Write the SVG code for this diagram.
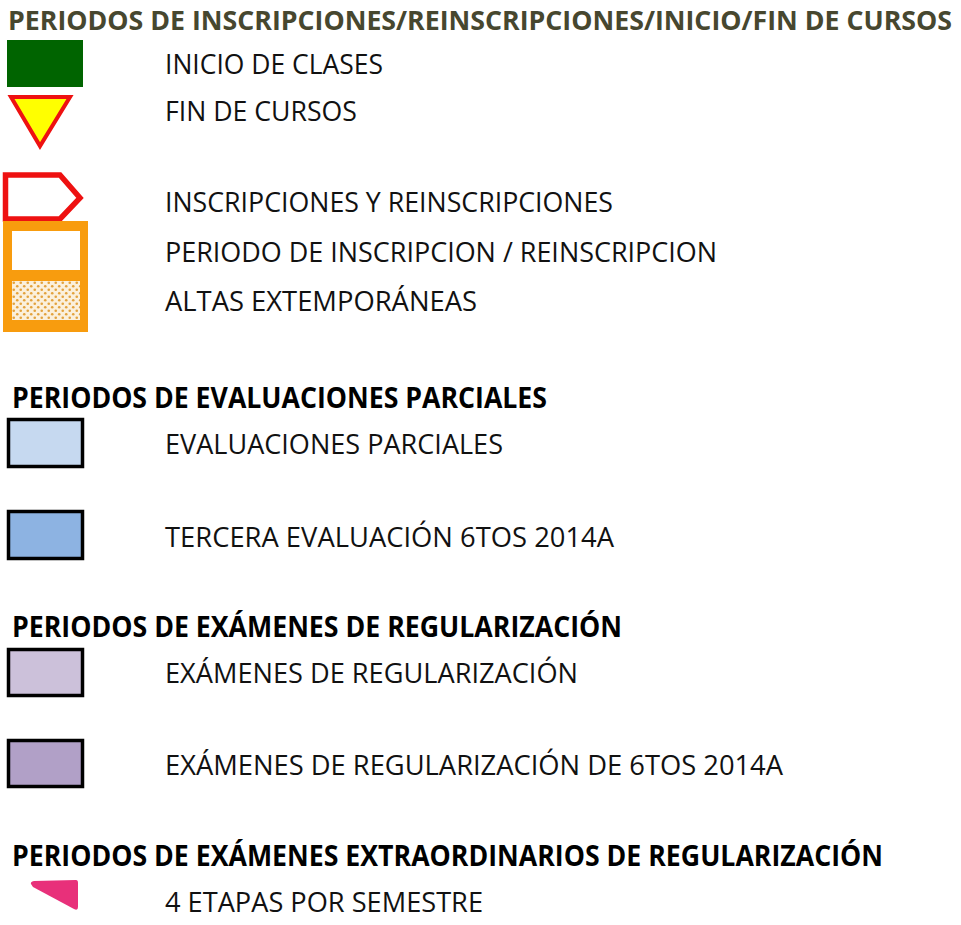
<svg xmlns="http://www.w3.org/2000/svg" width="961" height="925" viewBox="0 0 961 925">
<style>
.t{font-family:"Open Sans","Liberation Sans",sans-serif;font-size:27px;fill:#111}
.h{font-family:"Open Sans","Liberation Sans",sans-serif;font-size:28px;font-weight:bold;fill:#000}
.box{stroke:#000;stroke-width:3.5}
</style>
<defs>
<pattern id="dots" width="7" height="7" patternUnits="userSpaceOnUse" x="12" y="281">
<rect width="7" height="7" fill="#fbf0dc"/>
<circle cx="1.75" cy="1.75" r="1.3" fill="#e3a23c"/>
<circle cx="5.25" cy="5.25" r="1.3" fill="#e3a23c"/>
</pattern>
</defs>
<rect width="961" height="925" fill="#fff"/>
<g id="titles">
<text class="h" x="8" y="30" style="font-size:26.5px;fill:#47472f" textLength="944" lengthAdjust="spacingAndGlyphs">PERIODOS DE INSCRIPCIONES/REINSCRIPCIONES/INICIO/FIN DE CURSOS</text>
<text class="h" x="12" y="408" textLength="535" lengthAdjust="spacingAndGlyphs">PERIODOS DE EVALUACIONES PARCIALES</text>
<text class="h" x="12" y="637" textLength="610" lengthAdjust="spacingAndGlyphs">PERIODOS DE EXÁMENES DE REGULARIZACIÓN</text>
<text class="h" x="12" y="866" textLength="871" lengthAdjust="spacingAndGlyphs">PERIODOS DE EXÁMENES EXTRAORDINARIOS DE REGULARIZACIÓN</text>
</g>
<g id="inicio-clases">
<rect x="7" y="40" width="76" height="47" fill="#006400"/>
<text class="t" x="165" y="74" textLength="218" lengthAdjust="spacingAndGlyphs">INICIO DE CLASES</text>
</g>
<g id="fin-cursos">
<polygon points="11,97 70,97 40,146" fill="#ffff00" stroke="#ee1111" stroke-width="4" stroke-linejoin="miter"/>
<text class="t" x="165" y="121" textLength="192" lengthAdjust="spacingAndGlyphs">FIN DE CURSOS</text>
</g>
<g id="inscripciones">
<polygon points="5.5,175 60,175 80,198 60,219 5.5,219" fill="#fff" stroke="#ee1111" stroke-width="5.5" stroke-linejoin="miter"/>
<text class="t" x="165" y="212" textLength="448" lengthAdjust="spacingAndGlyphs">INSCRIPCIONES Y REINSCRIPCIONES</text>
</g>
<g id="periodo-inscripcion">
<rect x="3" y="221" width="85" height="111" fill="#f89c0e"/>
<rect x="12" y="231" width="68" height="39" fill="#fff"/>
<text class="t" x="165" y="262" textLength="552" lengthAdjust="spacingAndGlyphs">PERIODO DE INSCRIPCION / REINSCRIPCION</text>
</g>
<g id="altas">
<rect x="12" y="281" width="68" height="39" fill="url(#dots)"/>
<text class="t" x="165" y="311" textLength="312" lengthAdjust="spacingAndGlyphs">ALTAS EXTEMPORÁNEAS</text>
</g>
<g id="eval-parciales">
<rect class="box" x="8.5" y="419.5" width="74" height="47" fill="#c6d9f0"/>
<text class="t" x="165" y="454" textLength="338" lengthAdjust="spacingAndGlyphs">EVALUACIONES PARCIALES</text>
</g>
<g id="tercera-eval">
<rect class="box" x="8.5" y="511.5" width="74" height="47" fill="#8db3e2"/>
<text class="t" x="165" y="547" textLength="449" lengthAdjust="spacingAndGlyphs">TERCERA EVALUACIÓN 6TOS 2014A</text>
</g>
<g id="examenes-reg">
<rect class="box" x="8.5" y="649.5" width="74" height="46" fill="#ccc1da"/>
<text class="t" x="165" y="683" textLength="413" lengthAdjust="spacingAndGlyphs">EXÁMENES DE REGULARIZACIÓN</text>
</g>
<g id="examenes-reg-6tos">
<rect class="box" x="8.5" y="740.5" width="74" height="46" fill="#b1a0c7"/>
<text class="t" x="165" y="775" textLength="618" lengthAdjust="spacingAndGlyphs">EXÁMENES DE REGULARIZACIÓN DE 6TOS 2014A</text>
</g>
<g id="extraordinarios">
<path d="M31,884 Q30,882 34,881 L76,880 Q78,880 78,883 L78,907 Q78,911 74,909 L33,887 Z" fill="#e8307a"/>
<text class="t" x="165" y="912" textLength="318" lengthAdjust="spacingAndGlyphs">4 ETAPAS POR SEMESTRE</text>
</g>
<g id="connectors"></g>
</svg>
